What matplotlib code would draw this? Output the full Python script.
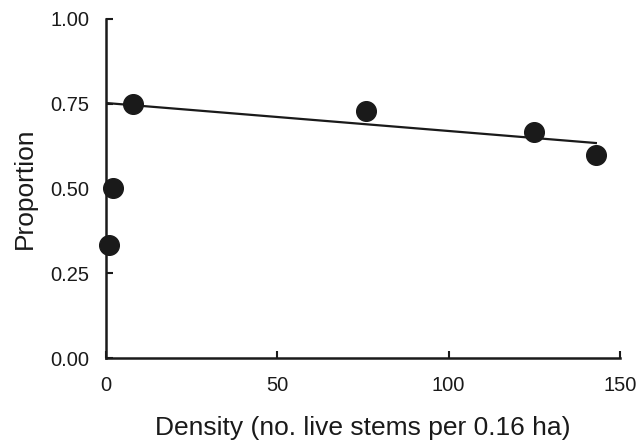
import matplotlib
matplotlib.use("Agg")
import matplotlib.pyplot as plt
import numpy as np

plt.rcParams['font.family'] = ['Liberation Sans', 'DejaVu Sans']

density = [1, 2, 8, 76, 125, 143]
proportion = [0.333, 0.50, 0.75, 0.727, 0.667, 0.60]
fit_x = [0, 143]
fit_y = [0.752, 0.634]

x_ticks = [0, 50, 100, 150]
y_ticks = [0.00, 0.25, 0.50, 0.75, 1.00]
y_tick_labels = ["0.00", "0.25", "0.50", "0.75", "1.00"]

fig = plt.figure(figsize=(6.39, 4.45), dpi=100)
ax = fig.add_axes([0.166, 0.1955, 0.804, 0.762])

ax.plot(fit_x, fit_y, color='#1a1a1a', lw=1.6, zorder=2)
ax.scatter(density, proportion, s=200, color='#1a1a1a', zorder=3, clip_on=False)

ax.set_xlim(0, 150)
ax.set_ylim(0, 1)
ax.set_xticks(x_ticks)
ax.set_yticks(y_ticks)
ax.set_yticklabels(y_tick_labels)

for s in ['top', 'right']:
    ax.spines[s].set_visible(False)
for s in ['left', 'bottom']:
    ax.spines[s].set_linewidth(1.8)
    ax.spines[s].set_color('#1a1a1a')

ax.tick_params(direction='in', length=5, width=1.5, labelsize=14.5, colors='#1a1a1a')
ax.tick_params(axis='x', pad=13)
ax.tick_params(axis='y', pad=12)

ax.set_xlabel('Density (no. live stems per 0.16 ha)', fontsize=19, labelpad=15, color='#1a1a1a')
ax.set_ylabel('Proportion', fontsize=19, labelpad=10, color='#1a1a1a')

fig.savefig('out.png', dpi=100)
